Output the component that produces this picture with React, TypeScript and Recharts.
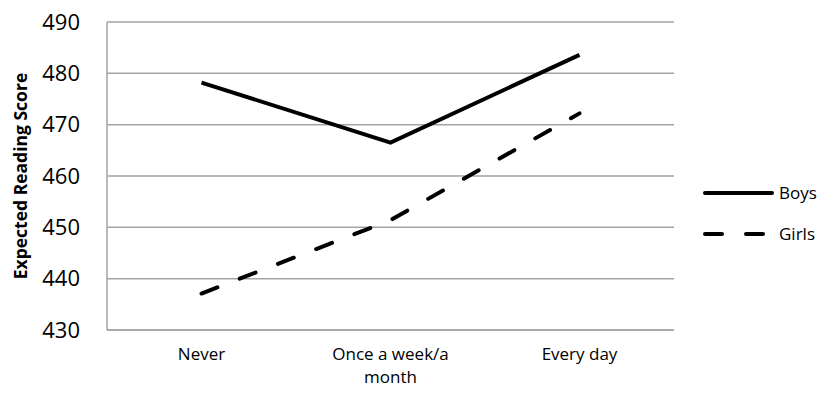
import * as React from "react"
import { CartesianGrid, Legend, Line, LineChart, Text, XAxis, YAxis } from "recharts"

const categories = ["Never", "Once a week/a month", "Every day"]
const boys = [478.2, 466.5, 483.6]
const girls = [437.1, 451.4, 472.2]
const yTicks = [430, 440, 450, 460, 470, 480, 490]

const data = categories.map((c, i) => ({ category: c, Boys: boys[i], Girls: girls[i] }))

const FONT = "'Open Sans', sans-serif"
const GRID = "#a3a3a3"

function XTick(props: any) {
    const { x, y, payload } = props
    return (
        <Text
            x={x}
            y={y}
            width={125}
            textAnchor="middle"
            verticalAnchor="start"
            fontSize={17}
            fontFamily={FONT}
            fill="#000"
            lineHeight={23}
        >
            {payload.value}
        </Text>
    )
}

function LegendContent(props: any) {
    const { payload } = props
    return (
        <div style={{ fontFamily: FONT, fontSize: 17 }}>
            {(payload || []).map((p: any) => (
                <div key={p.value} style={{ display: "flex", alignItems: "center", height: 41 }}>
                    <svg width={78} height={10} style={{ display: "block" }}>
                        <line
                            x1={7}
                            y1={5}
                            x2={74}
                            y2={5}
                            stroke={p.color}
                            strokeWidth={4}
                            strokeLinecap="round"
                            strokeDasharray={p.payload?.strokeDasharray}
                        />
                    </svg>
                    <span style={{ marginLeft: 3, color: "#000" }}>{p.value}</span>
                </div>
            ))}
        </div>
    )
}

export default function App() {
    return (
        <div style={{ position: "absolute", left: 0, top: 0, width: 824, height: 394, background: "#fff" }}>
            <LineChart
                width={824}
                height={394}
                data={data}
                margin={{ top: 22, right: 150, bottom: 0, left: 0 }}
            >
                <CartesianGrid horizontal={true} vertical={false} stroke={GRID} strokeWidth={1.5} />
                <XAxis
                    dataKey="category"
                    tick={<XTick />}
                    tickLine={false}
                    axisLine={{ stroke: GRID, strokeWidth: 1.5 }}
                    tickMargin={12}
                    interval={0}
                    height={64}
                    padding={{ left: 94.5, right: 94.5 }}
                />
                <YAxis
                    width={107}
                    domain={[430, 490]}
                    ticks={yTicks}
                    tickLine={false}
                    axisLine={{ stroke: GRID, strokeWidth: 1.5 }}
                    tickSize={0}
                    tickMargin={27}
                    tick={{ fontSize: 22, fontFamily: FONT, fill: "#000" }}
                    label={{
                        value: "Expected Reading Score",
                        angle: -90,
                        position: "insideLeft",
                        dx: 16,
                        dy: 0,
                        style: { textAnchor: "middle", fontSize: 17.5, fontWeight: 700, fontFamily: FONT, fill: "#000" },
                    }}
                />
                <Legend
                    layout="horizontal"
                    align="center"
                    verticalAlign="middle"
                    content={<LegendContent />}
                    wrapperStyle={{ left: 698, top: 172, width: 126 }}
                />
                <Line
                    dataKey="Boys"
                    stroke="#000"
                    strokeWidth={4}
                    dot={false}
                    activeDot={false}
                    isAnimationActive={false}
                />
                <Line
                    dataKey="Girls"
                    stroke="#000"
                    strokeWidth={4}
                    strokeDasharray="17 24"
                    strokeLinecap="round"
                    dot={false}
                    activeDot={false}
                    isAnimationActive={false}
                />
            </LineChart>
        </div>
    )
}
